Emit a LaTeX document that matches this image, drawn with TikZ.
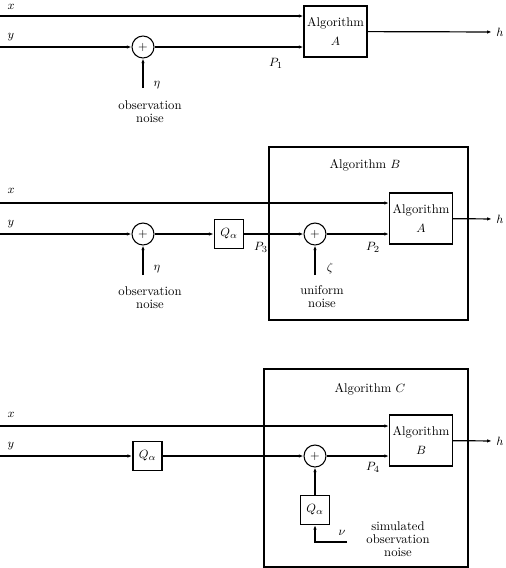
\documentclass[tikz,border=0pt]{standalone}
\usepackage{tikz}
\usetikzlibrary{arrows.meta,positioning}

\begin{document}
\begin{tikzpicture}[
  x=0.75pt, y=-0.75pt,
  font=\fontsize{9.5}{9.5}\selectfont,
  sig/.style={-{Latex[length=3.5pt,width=2.6pt]}, line width=0.9pt},
  algbox/.style={rectangle, draw, line width=1.1pt, minimum width=47pt,
                 minimum height=38.25pt, align=center, inner sep=1pt},
  outerbox/.style={rectangle, draw, line width=1.1pt, inner sep=0pt},
  quant/.style={rectangle, draw, line width=1.1pt, minimum width=22pt,
                minimum height=21.5pt, inner sep=0pt},
  adder/.style={circle, draw, line width=0.8pt, minimum size=16.5pt, inner sep=0pt},
  lbl/.style={inner sep=1pt},
  note/.style={align=center, inner sep=1pt},
]
  \useasboundingbox (0,0) rectangle (506,568);

  % Panel 1: algorithm A on noisy data
  \coordinate (x1) at (0,16);
  \coordinate (y1) at (0,47);
  \coordinate (eta1) at (143,88);
  \node[adder] (sum1) at (143,47) {$+$};
  \node[algbox] (algA1) at (335.5,31.5) {Algorithm\\[5pt]$A$};
  \node (h1) at (500,32) {$h$};
  \node[lbl] (xl1) at (11,7) {$x$};
  \node[lbl] (yl1) at (11,37) {$y$};
  \node[lbl] (P1) at (276,63) {$P_1$};
  \node[lbl] (etal1) at (157,85) {$\eta$};
  \node[note] (obs1) at (150,111.5) {observation\\noise};

  \draw[sig] (x1) -- (x1 -| algA1.west);
  \draw[sig] (y1) -- (sum1);
  \draw[sig] (sum1) -- (sum1 -| algA1.west);
  \draw[sig] (eta1) -- (sum1);
  \draw[sig] (algA1) -- (h1);

  % Panel 2: algorithm B
  \node[outerbox, minimum width=149.25pt, minimum height=129.75pt] (algB) at (368.5,233.5) {};
  \node (algBl) at (365,165) {Algorithm $B$};
  \coordinate (x2) at (0,203);
  \coordinate (y2) at (0,234);
  \coordinate (eta2) at (143,275);
  \coordinate (zeta2) at (315,275);
  \node[adder] (sum2a) at (143,234) {$+$};
  \node[quant] (q2) at (229,234) {$Q_\alpha$};
  \node[adder] (sum2b) at (315,234) {$+$};
  \node[algbox] (algA2) at (421,218.5) {Algorithm\\[5pt]$A$};
  \node (h2) at (500,219) {$h$};
  \node[lbl] (xl2) at (11,191) {$x$};
  \node[lbl] (yl2) at (11,224) {$y$};
  \node[lbl] (P3) at (261,247) {$P_3$};
  \node[lbl] (P2) at (373,247) {$P_2$};
  \node[lbl] (etal2) at (157,269) {$\eta$};
  \node[lbl] (zetal2) at (330,268) {$\zeta$};
  \node[note] (obs2) at (150,298) {observation\\noise};
  \node[note] (uni2) at (322,296.5) {uniform\\noise};

  \draw[sig] (x2) -- (x2 -| algA2.west);
  \draw[sig] (y2) -- (sum2a);
  \draw[sig] (sum2a) -- (q2);
  \draw[sig] (q2) -- (sum2b);
  \draw[sig] (sum2b) -- (sum2b -| algA2.west);
  \draw[sig] (eta2) -- (sum2a);
  \draw[sig] (zeta2) -- (sum2b);
  \draw[sig] (algA2) -- (h2);

  % Panel 3: algorithm C
  \node[outerbox, minimum width=153pt, minimum height=148.5pt] (algC) at (366,468) {};
  \node (algCl) at (370,389) {Algorithm $C$};
  \coordinate (x3) at (0,426);
  \coordinate (y3) at (0,456);
  \coordinate (nu3) at (347,542);
  \node[quant] (q3a) at (147.5,456) {$Q_\alpha$};
  \node[adder] (sum3) at (315,456) {$+$};
  \node[quant] (q3b) at (315,510) {$Q_\alpha$};
  \node[algbox] (algB3) at (421,440.5) {Algorithm\\[5pt]$B$};
  \node (h3) at (500,441) {$h$};
  \node[lbl] (xl3) at (11,415) {$x$};
  \node[lbl] (yl3) at (11,446) {$y$};
  \node[lbl] (P4) at (373,467) {$P_4$};
  \node[lbl] (nul3) at (342,533) {$\nu$};
  \node[note] (sim3) at (398,539) {simulated\\observation\\noise};

  \draw[sig] (x3) -- (x3 -| algB3.west);
  \draw[sig] (y3) -- (q3a);
  \draw[sig] (q3a) -- (sum3);
  \draw[sig] (sum3) -- (sum3 -| algB3.west);
  \draw[sig] (q3b) -- (sum3);
  \draw[sig] (nu3) -| (q3b);
  \draw[sig] (algB3) -- (h3);
\end{tikzpicture}
\end{document}
